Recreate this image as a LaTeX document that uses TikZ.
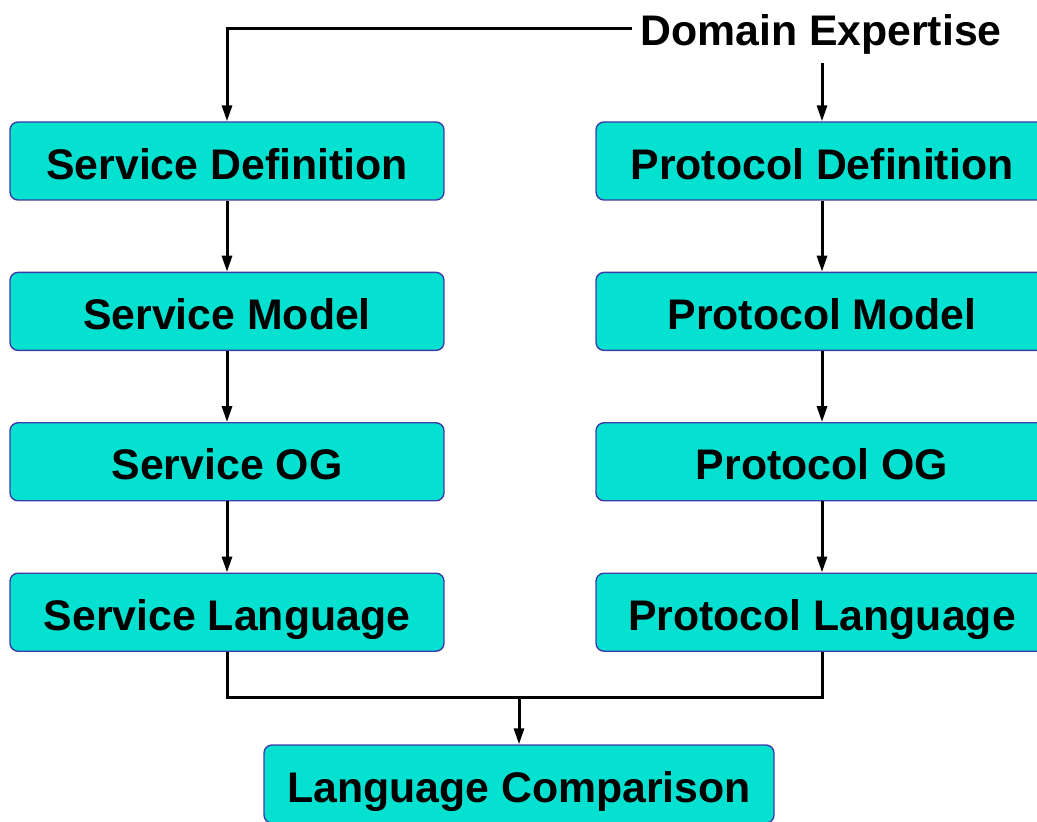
\documentclass[tikz,border=0pt]{standalone}
\usepackage{fontspec}
\setmainfont{Liberation Sans}
\usetikzlibrary{arrows.meta, positioning}

\definecolor{boxfill}{HTML}{05E1D0}
\definecolor{boxline}{HTML}{3C3CA8}

\begin{document}
\begin{tikzpicture}[
    x=0.5pt, y=-0.5pt,
    font=\fontsize{21.4}{25}\selectfont\bfseries,
    flowbox/.style={draw=boxline, fill=boxfill, rounded corners=4pt, minimum width=217pt, minimum height=39pt, inner sep=0pt, text height=22.5pt, text depth=4.3pt, line width=0.7pt},
    widebox/.style={flowbox, minimum width=226pt},
    arrow/.style={-{Triangle[length=8pt, width=5pt]}, line width=1.5pt}
]
  \useasboundingbox (0,0) rectangle (1037,822);

  \node[flowbox] (s1) at (227,161) {Service Definition};
  \node[flowbox, below=35.5pt of s1] (s2) {Service Model};
  \node[flowbox, below=35.5pt of s2] (s3) {Service OG};
  \node[flowbox, below=35.5pt of s3] (s4) {Service Language};

  \node[widebox] (p1) at (822,161) {Protocol Definition};
  \node[widebox, below=35.5pt of p1] (p2) {Protocol Model};
  \node[widebox, below=35.5pt of p2] (p3) {Protocol OG};
  \node[widebox, below=35.5pt of p3] (p4) {Protocol Language};

  \node[flowbox, minimum width=255pt] (cmp) at (519,784) {Language Comparison};
  \node[anchor=base, inner sep=4pt] (dom) at (821,46) {Domain Expertise};

  \draw[arrow] ([yshift=3pt]dom.west) -| (s1.north);
  \draw[arrow] (dom.south -| p1.north) -- (p1.north);

  \draw[arrow] (s1) -- (s2);
  \draw[arrow] (s2) -- (s3);
  \draw[arrow] (s3) -- (s4);
  \draw[arrow] (p1) -- (p2);
  \draw[arrow] (p2) -- (p3);
  \draw[arrow] (p3) -- (p4);

  \coordinate (join) at (519,697);
  \draw[line width=1.5pt] (s4.south) |- (join) -| (p4.south);
  \draw[arrow] (join) -- (cmp.north);
\end{tikzpicture}
\end{document}
